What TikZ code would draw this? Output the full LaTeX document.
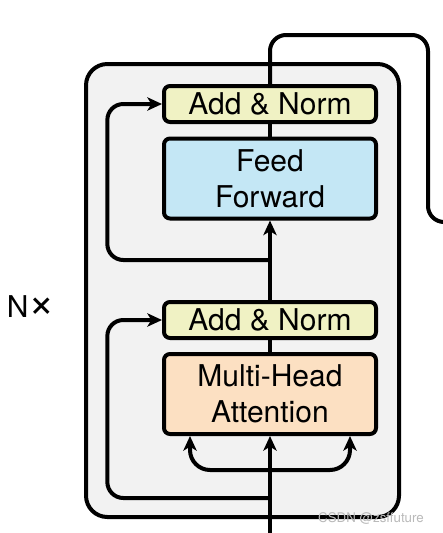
\documentclass[tikz,border=0pt]{standalone}
\usepackage{fontspec}
\setmainfont{TeX Gyre Heros}
\usetikzlibrary{arrows.meta,positioning}
\definecolor{layerbg}{RGB}{242,242,242}
\definecolor{normfill}{RGB}{240,242,196}
\definecolor{fffill}{RGB}{196,231,245}
\definecolor{attfill}{RGB}{252,224,194}
\tikzset{
  block/.style={draw, line width=3pt, rounded corners=4.5pt, minimum width=159pt,
    align=center, inner sep=0pt, font=\fontsize{22.5}{27}\selectfont},
  normbox/.style={block, fill=normfill, minimum height=27pt},
  bigbox/.style={block, minimum height=60pt},
  wire/.style={line width=3pt},
  flow/.style={wire, -{Stealth[length=11pt,width=10pt,inset=3pt]}},
}
\begin{document}
\begin{tikzpicture}[x=0.75pt,y=-0.75pt]
  \useasboundingbox (0,0) rectangle (443,533);

  % layer box
  \node[draw, line width=3pt, fill=layerbg, rounded corners=16pt,
    minimum width=234.75pt, minimum height=339.75pt] (layer) at (242.5,290.5) {};
  \node[font=\fontsize{22.5}{27}\selectfont] (nx) at (31,307) {N{\fontsize{34}{27}\selectfont ×}};

  % blocks
  \node[bigbox, fill=attfill] (mha) at (270,394) {Multi-Head\\Attention};
  \node[normbox] (an1) at (270,320) {Add \& Norm};
  \node[bigbox, fill=fffill] (ff) at (270,178.5) {Feed\\Forward};
  \node[normbox] (an2) at (270,104) {Add \& Norm};

  % coordinates of the wires
  \coordinate (in) at (270,533);
  \coordinate (split) at (270,470);
  \coordinate (res1) at (270,498);
  \coordinate (res2) at (270,260);
  \coordinate (top) at (428,35);
  \coordinate (out) at (443,222);

  % input and attention
  \draw[flow] (in) -- (mha.south);
  \draw[flow, rounded corners=15pt] (split) -| ([xshift=21pt]mha.south west);
  \draw[flow, rounded corners=15pt] (split) -| ([xshift=-21pt]mha.south east);
  \draw[wire] (mha.north) -- (an1.south);
  \draw[flow, rounded corners=12pt] (res1) -| ([xshift=-41pt]an1.west) -- (an1.west);

  % feed forward
  \draw[flow] (an1.north) -- (ff.south);
  \draw[wire] (ff.north) -- (an2.south);
  \draw[flow, rounded corners=12pt] (res2) -| ([xshift=-41pt]an2.west) -- (an2.west);

  % output
  \draw[wire, rounded corners=12pt] (an2.north) |- (top) |- (out);

  \node[text=gray!55, font=\fontsize{10}{12}\selectfont] (mark) at (371,518) {CSDN @zsffuture};
\end{tikzpicture}
\end{document}
